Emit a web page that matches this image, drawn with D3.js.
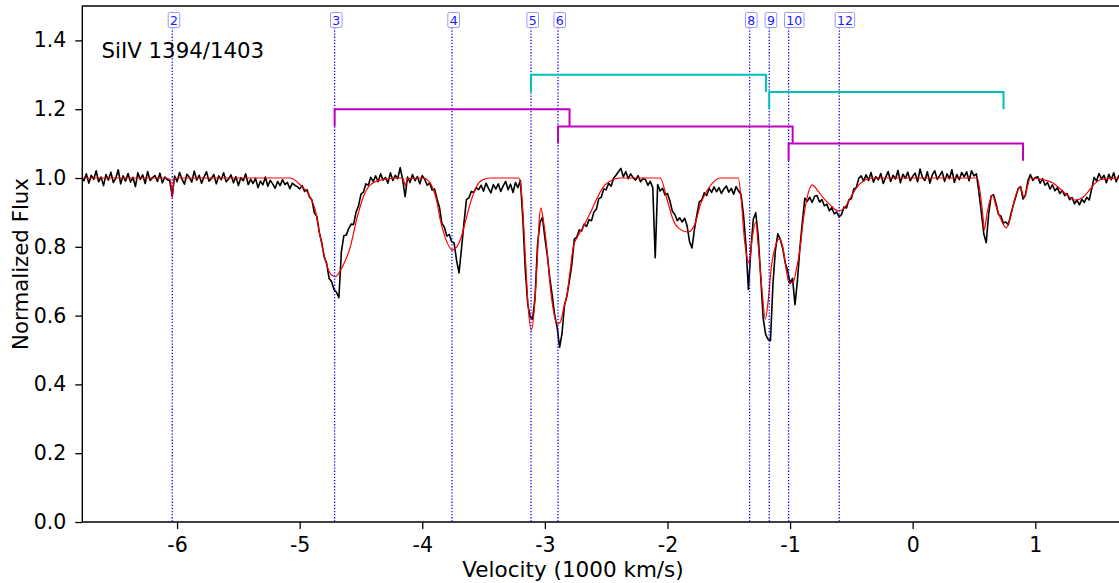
<!DOCTYPE html>
<html>
<head>
<meta charset="utf-8">
<script src="https://cdn.jsdelivr.net/npm/d3@7"></script>
<style>
body { margin: 0; background: #fff; }
text { font-family: "DejaVu Sans", sans-serif; }
</style>
</head>
<body>
<div id="chart"></div>
<script>
// observed spectrum, sampled every 0.02 (1000 km/s) starting at -6.78
var velStart = -6.78, velStep = 0.02;
var flux = [
  1.004, 0.992, 1.012, 0.985, 1.008, 0.996, 1.021, 0.989, 1.003, 0.978,
  1.010, 0.994, 1.017, 0.987, 0.999, 1.024, 0.983, 1.006, 0.991, 1.013,
  0.988, 1.002, 0.975, 1.015, 0.996, 1.009, 0.984, 1.019, 0.993, 1.001,
  1.007, 0.990, 1.014, 0.986, 1.003, 0.995, 0.992, 0.948, 1.006, 0.989,
  1.016, 0.997, 0.982, 1.011, 1.002, 0.988, 1.020, 0.994, 1.008, 0.985,
  1.003, 1.018, 0.991, 0.999, 1.010, 0.983, 1.006, 0.995, 1.015, 0.989,
  0.997, 1.009, 0.986, 1.004, 0.978, 1.001, 0.992, 1.012, 0.981, 0.996,
  0.984, 0.999, 0.972, 0.991, 0.980, 1.003, 0.976, 0.993, 0.983, 0.970,
  0.990, 0.978, 0.995, 0.981, 0.987, 0.969, 0.985, 0.979, 0.975, 0.968,
  0.978, 0.961, 0.966, 0.945, 0.936, 0.898, 0.889, 0.842, 0.813, 0.770,
  0.752, 0.708, 0.699, 0.676, 0.668, 0.652, 0.785, 0.832, 0.834, 0.853,
  0.866, 0.865, 0.901, 0.919, 0.953, 0.959, 0.983, 0.979, 1.002, 0.990,
  1.006, 0.989, 1.012, 0.994, 1.001, 0.985, 1.015, 0.993, 1.008, 0.998,
  1.030, 0.995, 0.946, 1.003, 0.987, 1.010, 0.992, 1.004, 0.983, 1.007,
  0.996, 0.979, 0.986, 0.965, 0.968, 0.939, 0.915, 0.868, 0.857, 0.831,
  0.836, 0.815, 0.811, 0.760, 0.724, 0.795, 0.869, 0.937, 0.942, 0.961,
  0.958, 0.972, 0.966, 0.979, 0.962, 0.985, 0.970, 0.957, 0.981, 0.968,
  0.983, 0.961, 0.977, 0.990, 0.966, 0.982, 0.958, 0.987, 0.972, 0.993,
  0.884, 0.735, 0.634, 0.596, 0.590, 0.653, 0.806, 0.870, 0.886, 0.826,
  0.774, 0.710, 0.659, 0.601, 0.566, 0.508, 0.548, 0.631, 0.657, 0.702,
  0.749, 0.822, 0.828, 0.849, 0.846, 0.866, 0.859, 0.879, 0.876, 0.901,
  0.909, 0.940, 0.944, 0.968, 0.966, 0.985, 0.976, 0.999, 1.008, 1.018,
  1.028, 1.003, 1.019, 0.998, 1.012, 1.001, 0.994, 1.007, 0.989, 0.998,
  0.996, 0.979, 0.990, 0.972, 0.768, 0.981, 0.962, 0.970, 0.951, 0.955,
  0.933, 0.903, 0.894, 0.876, 0.884, 0.872, 0.883, 0.861, 0.815, 0.797,
  0.851, 0.894, 0.931, 0.936, 0.957, 0.949, 0.970, 0.958, 0.974, 0.960,
  0.972, 0.955, 0.968, 0.977, 0.959, 0.970, 0.953, 0.975, 0.962, 0.952,
  0.893, 0.806, 0.676, 0.792, 0.880, 0.899, 0.832, 0.716, 0.594, 0.546,
  0.531, 0.527, 0.690, 0.789, 0.838, 0.822, 0.795, 0.754, 0.731, 0.694,
  0.708, 0.632, 0.702, 0.796, 0.871, 0.941, 0.932, 0.944, 0.929, 0.947,
  0.949, 0.930, 0.937, 0.919, 0.924, 0.905, 0.914, 0.896, 0.901, 0.887,
  0.894, 0.916, 0.913, 0.937, 0.940, 0.968, 0.972, 0.999, 1.006, 0.991,
  1.009, 0.993, 1.016, 0.988, 1.004, 0.995, 1.013, 0.984, 1.002, 1.019,
  0.990, 1.008, 0.997, 1.022, 0.986, 1.011, 0.999, 1.017, 0.992, 1.005,
  1.014, 0.989, 1.026, 1.001, 0.993, 1.018, 0.985, 1.009, 1.021, 0.996,
  1.007, 1.019, 0.990, 1.012, 0.998, 1.024, 0.987, 1.010, 0.995, 1.016,
  1.003, 1.018, 0.992, 1.021, 1.006, 1.012, 0.958, 0.900, 0.838, 0.812,
  0.896, 0.948, 0.951, 0.925, 0.894, 0.889, 0.869, 0.872, 0.864, 0.893,
  0.921, 0.944, 0.969, 0.975, 0.939, 0.951, 0.992, 1.010, 0.993, 1.001,
  1.004, 0.985, 0.998, 0.979, 0.987, 0.968, 0.980, 0.963, 0.972, 0.955,
  0.964, 0.949, 0.955, 0.937, 0.943, 0.925, 0.936, 0.922, 0.938, 0.929,
  0.944, 0.936, 0.968, 1.002, 0.991, 1.013, 0.997, 1.008, 0.986, 1.011,
  0.995, 1.015, 0.989, 1.006, 0.998, 1.012
];

// fitted model [velocity, flux]
var model = [
  [-6.78, 1.0], [-6.096, 1.0], [-6.055, 0.995], [-6.039, 0.942], [-6.023, 0.995], [-5.998, 1.0],
  [-5.077, 1.0], [-4.995, 0.98], [-4.914, 0.945], [-4.873, 0.907], [-4.832, 0.828], [-4.791, 0.762],
  [-4.750, 0.722], [-4.710, 0.713], [-4.653, 0.741], [-4.587, 0.80], [-4.530, 0.887], [-4.481, 0.945],
  [-4.424, 0.98], [-4.343, 0.994], [-4.179, 1.0], [-4.155, 0.998], [-4.139, 0.977], [-4.122, 0.998],
  [-3.992, 1.0], [-3.935, 0.985], [-3.878, 0.927], [-3.853, 0.878], [-3.812, 0.826], [-3.755, 0.791],
  [-3.690, 0.82], [-3.649, 0.872], [-3.608, 0.927], [-3.560, 0.974], [-3.511, 0.994], [-3.445, 1.0],
  [-3.217, 1.0], [-3.201, 0.99], [-3.184, 0.927], [-3.160, 0.775], [-3.135, 0.62], [-3.111, 0.558],
  [-3.086, 0.62], [-3.062, 0.762], [-3.046, 0.878], [-3.033, 0.913], [-3.013, 0.878], [-2.980, 0.782],
  [-2.956, 0.683], [-2.931, 0.616], [-2.899, 0.576], [-2.874, 0.581], [-2.850, 0.616], [-2.817, 0.666],
  [-2.793, 0.733], [-2.768, 0.80], [-2.736, 0.828], [-2.687, 0.858], [-2.630, 0.898], [-2.573, 0.942],
  [-2.524, 0.974], [-2.467, 0.991], [-2.385, 1.0], [-2.059, 1.0], [-2.002, 0.936], [-1.953, 0.878],
  [-1.912, 0.855], [-1.830, 0.843], [-1.773, 0.869], [-1.732, 0.922], [-1.675, 0.965], [-1.626, 0.988],
  [-1.569, 1.0], [-1.423, 1.0], [-1.398, 0.936], [-1.374, 0.828], [-1.357, 0.78], [-1.333, 0.753],
  [-1.308, 0.828], [-1.280, 0.872], [-1.259, 0.80], [-1.227, 0.666], [-1.202, 0.590], [-1.178, 0.645],
  [-1.153, 0.741], [-1.121, 0.80], [-1.088, 0.823], [-1.055, 0.791], [-1.031, 0.733], [-1.007, 0.695],
  [-0.974, 0.698], [-0.949, 0.733], [-0.917, 0.80], [-0.892, 0.878], [-0.860, 0.945], [-0.819, 0.98],
  [-0.778, 0.965], [-0.729, 0.942], [-0.672, 0.922], [-0.607, 0.904], [-0.550, 0.916], [-0.509, 0.942],
  [-0.452, 0.974], [-0.403, 0.991], [-0.321, 1.0], [0.527, 1.0], [0.551, 0.956], [0.576, 0.878],
  [0.584, 0.849], [0.608, 0.90], [0.649, 0.95], [0.682, 0.916], [0.715, 0.884], [0.763, 0.855],
  [0.796, 0.884], [0.837, 0.945], [0.878, 0.974], [0.910, 0.942], [0.935, 0.974], [0.959, 1.0],
  [1.082, 0.994], [1.147, 0.985], [1.204, 0.968], [1.261, 0.95], [1.326, 0.936], [1.392, 0.945],
  [1.449, 0.968], [1.489, 0.985], [1.546, 0.997], [1.72, 1.0]
];

// absorption components
var compVel = [-6.039, -4.715, -3.758, -3.113, -2.893, -1.330, -1.170, -1.012, -0.599];
var compLabel = ["2", "3", "4", "5", "6", "8", "9", "10", "12"];

// doublet brackets
var bracketStart = [-3.113, -1.170, -4.715, -2.893, -1.012];
var bracketEnd = [-1.197, 0.741, -2.799, -0.979, 0.900];
var bracketTop = [1.30, 1.25, 1.20, 1.15, 1.10];
var bracketSet = [0, 0, 1, 1, 1];

var xTicks = [-6, -5, -4, -3, -2, -1, 0, 1];
var yTicks = [0.0, 0.2, 0.4, 0.6, 0.8, 1.0, 1.2, 1.4];

var width = 1119, height = 583;
var pLeft = 82.3, pRight = 1121.1, pTop = 6, pBottom = 522;

var svg = d3.select("#chart").append("svg")
    .attr("width", width)
    .attr("height", height);

var x = d3.scaleLinear().domain([-6.773, 1.70]).range([pLeft, pRight]);
var y = d3.scaleLinear().domain([0, 1.5]).range([pBottom, pTop]);
var setColor = d3.scaleOrdinal().domain([0, 1]).range(["#00bfbf", "#bf00bf"]);

svg.append("clipPath").attr("id", "plot")
  .append("rect")
    .attr("x", pLeft).attr("y", pTop)
    .attr("width", pRight - pLeft).attr("height", pBottom - pTop);

var plot = svg.append("g").attr("clip-path", "url(#plot)");

var obs = flux.map(function(f, i) { return [velStart + i * velStep, f]; });

var line = d3.line()
    .x(function(d) { return x(d[0]); })
    .y(function(d) { return y(d[1]); });

plot.append("path")
    .datum(obs)
    .attr("fill", "none")
    .attr("stroke", "#000")
    .attr("stroke-width", 1.6)
    .attr("stroke-linejoin", "round")
    .attr("d", line);

plot.append("path")
    .datum(model)
    .attr("fill", "none")
    .attr("stroke", "#ff0000")
    .attr("stroke-width", 1.2)
    .attr("d", line.curve(d3.curveMonotoneX));

// component markers
plot.selectAll("line.comp")
    .data(compVel)
    .enter().append("line")
    .attr("class", "comp")
    .attr("x1", function(d) { return x(d); })
    .attr("x2", function(d) { return x(d); })
    .attr("y1", pTop + 12)
    .attr("y2", pBottom)
    .attr("stroke", "#0000ff")
    .attr("stroke-width", 1.3)
    .attr("stroke-dasharray", "1.3,1.8");

var lab = svg.selectAll("g.lab")
    .data(compVel)
    .enter().append("g")
    .attr("class", "lab");

lab.append("text")
    .attr("x", function(d) { return x(d) - 2.3; })
    .attr("y", 24.5)
    .attr("font-size", "12.5px")
    .attr("fill", "#1a1aff")
    .text(function(d, i) { return compLabel[i]; });

lab.each(function() {
    var g = d3.select(this);
    var b = g.select("text").node().getBBox();
    g.insert("rect", "text")
        .attr("x", b.x - 1.8)
        .attr("y", 12.5)
        .attr("width", b.width + 3.6)
        .attr("height", 15)
        .attr("rx", 1.5)
        .attr("fill", "#fff")
        .attr("stroke", "#9999ff")
        .attr("stroke-width", 1);
});

// brackets
var legDrop = 0.05;
plot.selectAll("path.bracket")
    .data(bracketStart)
    .enter().append("path")
    .attr("class", "bracket")
    .attr("fill", "none")
    .attr("stroke", function(d, i) { return setColor(bracketSet[i]); })
    .attr("stroke-width", 2)
    .attr("d", function(d, i) {
        var t = bracketTop[i];
        return d3.line()([
            [x(d), y(t - legDrop)], [x(d), y(t)],
            [x(bracketEnd[i]), y(t)], [x(bracketEnd[i]), y(t - legDrop)]
        ]);
    });

// axes
var xAxis = svg.append("g")
    .attr("transform", "translate(0," + pBottom + ")")
    .call(d3.axisBottom(x).tickValues(xTicks).tickSize(7).tickPadding(8)
        .tickFormat(function(d) { return String(d); }));

var yAxis = svg.append("g")
    .attr("transform", "translate(" + pLeft + ",0)")
    .call(d3.axisLeft(y).tickValues(yTicks).tickSize(7).tickPadding(9)
        .tickFormat(d3.format(".1f")));

[xAxis, yAxis].forEach(function(a) {
    a.select(".domain").remove();
    a.selectAll(".tick line").attr("stroke", "#000").attr("stroke-width", 1.3);
    a.selectAll(".tick text")
        .attr("font-size", "20.5px")
        .attr("font-family", "DejaVu Sans")
        .attr("fill", "#000");
});

// spines
svg.append("path")
    .attr("fill", "none")
    .attr("stroke", "#000")
    .attr("stroke-width", 1.4)
    .attr("d", d3.line()([[pRight, pTop], [pLeft, pTop], [pLeft, pBottom], [pRight, pBottom]]));

svg.append("text")
    .attr("x", 101.5)
    .attr("y", 58)
    .attr("font-size", "21.3px")
    .text("SiIV 1394/1403");

svg.append("text")
    .attr("x", 573)
    .attr("y", 577)
    .attr("text-anchor", "middle")
    .attr("font-size", "21.5px")
    .text("Velocity (1000 km/s)");

svg.append("text")
    .attr("transform", "translate(28," + ((pTop + pBottom) / 2) + ") rotate(-90)")
    .attr("text-anchor", "middle")
    .attr("font-size", "21.3px")
    .text("Normalized Flux");
</script>
</body>
</html>
